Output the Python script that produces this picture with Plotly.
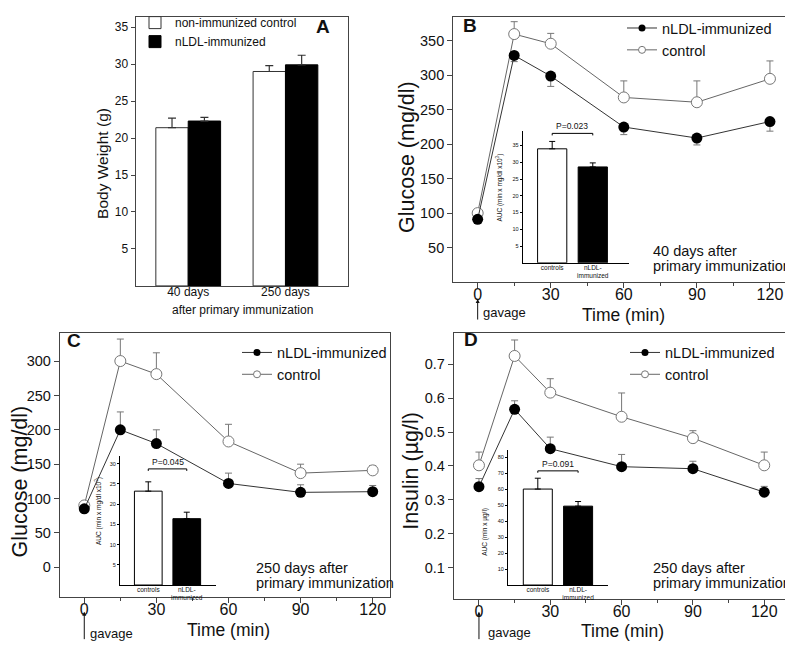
import plotly.graph_objects as go

W, H = 793, 650
OFF = 8  # page offset of the plot inside the browser window


def px(x):
    return min(max((x - OFF) / W, 0), 1)


def py(y):
    return min(max(1 - (y - OFF) / H, 0), 1)


def pyl(y):  # unclamped (legend / annotation positions)
    return 1 - (y - OFF) / H


def pxl(x):
    return (x - OFF) / W


FONT = "Liberation Sans, Arial, sans-serif"

# ---------------- data ----------------
weight_groups = ["40 days", "250 days"]
weight_control = [21.4, 29.0]
weight_control_err = [1.3, 0.8]
weight_nldl = [22.3, 29.9]
weight_nldl_err = [0.5, 1.3]

time_min = [0, 15, 30, 60, 90, 120]
glc40_nldl = [91, 329, 299, 225, 209, 233]
glc40_nldl_err = [0, 9, 15, 11, 10, 14]
glc40_ctrl = [100, 360, 346, 268, 261, 295]
glc40_ctrl_err = [0, 18, 15, 24, 31, 26]

glc250_nldl = [85, 200, 180, 122, 109, 110]
glc250_nldl_err = [0, 26, 20, 15, 11, 9]
glc250_ctrl = [90, 300, 281, 183, 137, 141]
glc250_ctrl_err = [0, 32, 31, 25, 13, 7]

ins250_nldl = [0.339, 0.567, 0.451, 0.398, 0.392, 0.323]
ins250_nldl_err = [0.024, 0.025, 0.034, 0.036, 0.022, 0.017]
ins250_ctrl = [0.402, 0.724, 0.616, 0.545, 0.482, 0.402]
ins250_ctrl_err = [0.039, 0.047, 0.041, 0.070, 0.022, 0.039]

auc_groups = ["controls", "nLDL-<br>immunized"]
auc_glc40 = [34.0, 28.6]
auc_glc40_err = [2.2, 1.2]
auc_glc250 = [23.2, 16.4]
auc_glc250_err = [2.3, 1.6]
auc_ins250 = [60.1, 49.4]
auc_ins250_err = [6.8, 2.9]
p_values = ["P=0.023", "P=0.045", "P=0.091"]

fig = go.Figure()

AX = "#444"
# ---------------- panel A ----------------
fig.add_trace(go.Bar(
    x=weight_groups, y=weight_control, name="non-immunized control",
    marker=dict(color="white", line=dict(color="#333", width=1)),
    width=0.333, offset=-0.333,
    error_y=dict(type="data", array=weight_control_err, arrayminus=[0, 0], symmetric=False,
                 color="#333", thickness=1.2, width=4),
    xaxis="x", yaxis="y", legend="legend"))
fig.add_trace(go.Bar(
    x=weight_groups, y=weight_nldl, name="nLDL-immunized",
    marker=dict(color="black", line=dict(color="black", width=1)),
    width=0.333, offset=0,
    error_y=dict(type="data", array=weight_nldl_err, arrayminus=[0, 0], symmetric=False,
                 color="#333", thickness=1.2, width=4),
    xaxis="x", yaxis="y", legend="legend"))


# ---------------- line panels ----------------
def line_panel(xa, ya, leg, y_n, e_n, y_c, e_c, n_down):
    z = [0] * len(e_n)
    if n_down:
        en = dict(type="data", array=z, arrayminus=e_n, symmetric=False)
    else:
        en = dict(type="data", array=e_n, arrayminus=z, symmetric=False)
    en.update(color="#777", thickness=1, width=3.5)
    fig.add_trace(go.Scatter(
        x=time_min, y=y_c, mode="lines+markers", showlegend=False,
        line=dict(color="#666", width=1),
        marker=dict(symbol="circle", size=11, color="white", line=dict(color="#777", width=1)),
        error_y=dict(type="data", array=e_c, arrayminus=z, symmetric=False,
                     color="#777", thickness=1, width=3.5),
        xaxis=xa, yaxis=ya))
    fig.add_trace(go.Scatter(
        x=time_min, y=y_n, mode="lines+markers", showlegend=False,
        line=dict(color="#333", width=1),
        marker=dict(symbol="circle", size=11, color="black"),
        error_y=en, xaxis=xa, yaxis=ya))
    # legend entries
    fig.add_trace(go.Scatter(
        x=[None], y=[None], mode="lines+markers", name="nLDL-immunized",
        line=dict(color="#333", width=1), marker=dict(size=7, color="black"),
        xaxis=xa, yaxis=ya, legend=leg))
    fig.add_trace(go.Scatter(
        x=[None], y=[None], mode="lines+markers", name="control",
        line=dict(color="#666", width=1),
        marker=dict(size=7, color="white", line=dict(color="#777", width=1)),
        xaxis=xa, yaxis=ya, legend=leg))


line_panel("x2", "y2", "legend2", glc40_nldl, glc40_nldl_err, glc40_ctrl, glc40_ctrl_err, True)
line_panel("x3", "y3", "legend3", glc250_nldl, glc250_nldl_err, glc250_ctrl, glc250_ctrl_err, False)
line_panel("x4", "y4", "legend4", ins250_nldl, ins250_nldl_err, ins250_ctrl, ins250_ctrl_err, False)


# ---------------- insets ----------------
def inset(xa, ya, vals, errs):
    fig.add_trace(go.Bar(
        x=auc_groups, y=vals, width=0.72, showlegend=False,
        marker=dict(color=["white", "black"], line=dict(color="black", width=1)),
        error_y=dict(type="data", array=errs, arrayminus=[0, 0], symmetric=False,
                     color="black", thickness=1, width=3),
        xaxis=xa, yaxis=ya))


inset("x5", "y5", auc_glc40, auc_glc40_err)
inset("x6", "y6", auc_glc250, auc_glc250_err)
inset("x7", "y7", auc_ins250, auc_ins250_err)

# ---------------- axes ----------------
tickfont_main = dict(family=FONT, size=14.5, color="#111")


def main_x(dom, rng):
    return dict(domain=dom, range=rng, tickvals=[0, 30, 60, 90, 120], showline=True, mirror=True,
                linecolor=AX, linewidth=1.3, ticks="outside", ticklen=5, tickcolor=AX,
                minor=dict(tickvals=[15, 45, 75, 105], ticks="outside", ticklen=3, tickcolor=AX),
                ticklabelstandoff=-7,
                showgrid=False, zeroline=False, tickfont=dict(family=FONT, size=16, color="#111"))


def main_y(dom, rng, tv, fmt=None):
    d = dict(domain=dom, range=rng, tickvals=tv, showline=True, mirror=True, linecolor=AX,
             linewidth=1.3, ticks="outside", ticklen=5, tickcolor=AX, showgrid=False,
             zeroline=False, tickfont=tickfont_main)
    if fmt:
        d["tickformat"] = fmt
    return d


def inset_x(dom, rng):
    return dict(domain=dom, range=rng, type="category", showline=True, linecolor="black",
                linewidth=1, ticks="", showgrid=False, zeroline=False, ticklabelstandoff=-2,
                tickfont=dict(family=FONT, size=6.5, color="#111"))


def inset_y(dom, rng, tv):
    return dict(domain=dom, range=rng, tickvals=tv, showline=True, linecolor="black",
                linewidth=1, ticks="outside", ticklen=2, tickcolor="black", showgrid=False,
                zeroline=False, tickfont=dict(family=FONT, size=5.5, color="#111"))


fig.update_layout(
    width=W, height=H, margin=dict(l=0, r=0, t=0, b=0),
    paper_bgcolor="white", plot_bgcolor="rgba(0,0,0,0)", barmode="overlay",
    font=dict(family=FONT, color="#111"),
    xaxis=dict(domain=[px(135.7), px(347.7)], type="category", range=[-0.54, 1.64],
               showline=True, mirror=True, linecolor=AX, linewidth=1.3, ticks="",
               ticklabelstandoff=-5,
               showgrid=False, tickfont=dict(family=FONT, size=12, color="#111")),
    yaxis=dict(domain=[py(280.7), py(8)], range=[0, 36.37], tickvals=[5, 10, 15, 20, 25, 30, 35],
               showline=True, mirror=True, linecolor=AX, linewidth=1.3, ticks="outside",
               ticklen=4, tickcolor=AX, showgrid=False, zeroline=False,
               tickfont=dict(family=FONT, size=12, color="#111")),
    xaxis2=dict(anchor="y2", **main_x([px(453.3), px(787)], [-10, 127])),
    yaxis2=dict(anchor="x2", **main_y([py(276.7), py(8)], [0, 384.8], [50, 100, 150, 200, 250, 300, 350])),
    xaxis3=dict(anchor="y3", **main_x([px(60), px(390)], [-10.1, 127.2])),
    yaxis3=dict(anchor="x3", **main_y([py(596), py(328.3)], [-43, 341], [0, 50, 100, 150, 200, 250, 300])),
    xaxis4=dict(anchor="y4", **main_x([px(454), px(787.3)], [-10.5, 129.7])),
    yaxis4=dict(anchor="x4", **main_y([py(598.3), py(328.3)], [0.008, 0.792],
                                      [0.1, 0.2, 0.3, 0.4, 0.5, 0.6, 0.7], ".1f")),
    xaxis5=dict(anchor="y5", **inset_x([px(522.7), px(629.3)], [-0.727, 1.9])),
    yaxis5=dict(anchor="x5", **inset_y([py(257.3), py(123.3)], [0, 39.4], [5, 10, 15, 20, 25, 30, 35])),
    xaxis6=dict(anchor="y6", **inset_x([px(120), px(216)], [-0.735, 1.76])),
    yaxis6=dict(anchor="x6", **inset_y([py(584), py(452.7)], [0, 32], [5, 10, 15, 20, 25, 30])),
    xaxis7=dict(anchor="y7", **inset_x([px(508), px(607.5)], [-0.74, 1.73])),
    yaxis7=dict(anchor="x7", **inset_y([py(584), py(446.7)], [0, 84.8], [10, 20, 30, 40, 50, 60, 70, 80])),
)

leg_common = dict(xanchor="left", yanchor="top", bgcolor="rgba(0,0,0,0)", borderwidth=0,
                  tracegroupgap=0)
fig.update_layout(
    legend=dict(x=pxl(135), y=pyl(-1), font=dict(family=FONT, size=12, color="#111"), **leg_common),
    legend2=dict(x=pxl(622), y=pyl(3), font=dict(family=FONT, size=14.5, color="#111"), **leg_common),
    legend3=dict(x=pxl(237), y=pyl(332), font=dict(family=FONT, size=14.5, color="#111"), **leg_common),
    legend4=dict(x=pxl(625), y=pyl(332), font=dict(family=FONT, size=14.5, color="#111"), **leg_common),
)

# ---------------- annotations ----------------
ann = []


def text(x, y, s, size, xanchor="center", yanchor="middle", angle=0, bold=False):
    ann.append(dict(x=pxl(x), y=pyl(y), xref="paper", yref="paper", text=f"<b>{s}</b>" if bold else s,
                    showarrow=False, xanchor=xanchor, yanchor=yanchor, textangle=angle,
                    font=dict(family=FONT, size=size, color="#111")))


# panel A
text(103, 157, "Body Weight (g)", 15.5, angle=-90)
text(242, 305, "after primary immunization", 12)
text(323, 18, "A", 19, bold=True)
# panel letters
text(461, 17, "B", 19, xanchor="left", bold=True)
text(65, 336, "C", 19, xanchor="left", bold=True)
text(462, 335, "D", 19, xanchor="left", bold=True)
# axis titles
text(407, 150, "Glucose (mg/dl)", 21.5, angle=-90)
text(20, 479, "Glucose (mg/dl)", 21.5, angle=-90)
text(411, 468, "Insulin (µg/l)", 21.5, angle=-90)
text(623, 310, "Time (min)", 17.5)
text(228, 630, "Time (min)", 17.5)
text(622, 631, "Time (min)", 17.5)
# condition labels
for (x, y1, y2, a) in [(651, 245, 260, "40 days after"), (254, 567, 582, "250 days after"),
                       (651, 567, 582, "250 days after")]:
    text(x, y1, a, 14.5, xanchor="left")
    text(x, y2, "primary immunization", 14.5, xanchor="left")
# gavage arrows
for (xa, xt, yt, ytip, ytail) in [("x2", 481, 308, 294, 316), ("x3", 88, 633, 611, 640),
                                  ("x4", 486, 632, 611, 640)]:
    ann.append(dict(x=0, y=pyl(ytip), xref=xa, yref="paper", ax=0, ay=ytail - ytip, text="",
                    showarrow=True, arrowhead=2, arrowsize=0.8, arrowwidth=1, arrowcolor="#111"))
    text(xt, yt, "gavage", 13, xanchor="left")
# inset y titles
text(500, 181, "AUC (min x mg/dl x10<sup>3</sup>)", 6.5, angle=-90)
text(98, 509, "AUC (min x mg/dl x10<sup>3</sup>)", 6.5, angle=-90)
text(485, 530, "AUC (min x µg/l)", 6.5, angle=-90)

# P brackets
shapes = []
for (xa, ya, yb, tick, p) in [("x5", "y5", 38.6, 0.6, p_values[0]), ("x6", "y6", 28.7, 0.5, p_values[1]),
                              ("x7", "y7", 71.5, 1.2, p_values[2])]:
    line = dict(color="black", width=1)
    shapes.append(dict(type="line", xref=xa, yref=ya, x0=0, x1=1, y0=yb, y1=yb, line=line))
    shapes.append(dict(type="line", xref=xa, yref=ya, x0=0, x1=0, y0=yb, y1=yb - tick, line=line))
    shapes.append(dict(type="line", xref=xa, yref=ya, x0=1, x1=1, y0=yb, y1=yb - tick, line=line))
    ann.append(dict(x=0.5, y=yb, xref=xa, yref=ya, text=p, showarrow=False, yanchor="bottom",
                    yshift=0, font=dict(family=FONT, size=8.5, color="#111")))

fig.update_layout(annotations=ann, shapes=shapes)
fig.write_html("out.html")
